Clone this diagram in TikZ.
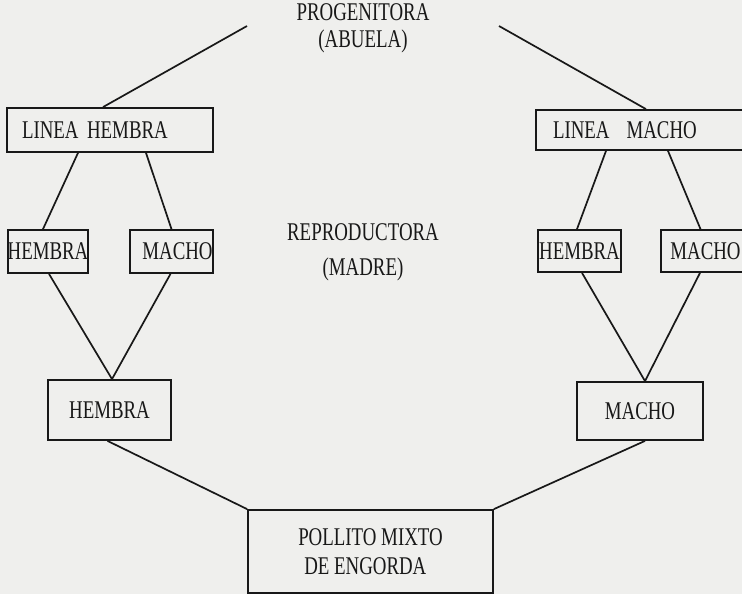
\documentclass[tikz,border=0pt]{standalone}
\usepackage{fontspec}
\newfontfamily\typefont[FakeStretch=0.74]{Liberation Serif}
\usetikzlibrary{positioning}
\definecolor{paper}{RGB}{239,239,237}
\definecolor{ink}{RGB}{24,24,24}
\tikzset{
  box/.style={draw=ink,line width=1.8pt,rectangle,inner sep=0pt,text=ink,
              font=\typefont\fontsize{25.5}{27}\selectfont},
  label/.style={text=ink,align=center,inner sep=0pt,
              font=\typefont\fontsize{25.5}{27}\selectfont},
  link/.style={draw=ink,line width=1.7pt}
}

\begin{document}
\begin{tikzpicture}[x=1pt,y=-1pt]
                   \useasboundingbox (0,0) rectangle (742,594);
                   \clip (0,0) rectangle (742,594);
                   \fill[paper] (0,0) rectangle (742,594);
                   \node[label] (prog) at (363,28) {PROGENITORA\\(ABUELA)};
                   \node[label] (rep) at (363,252) {REPRODUCTORA\\[8pt](MADRE)};
                   \node[box,minimum width=206pt,minimum height=44pt,text width=176pt,align=left] (lh) at (110,130) {LINEA HEMBRA};
                   \node[box,minimum width=214pt,minimum height=40pt,text width=180pt,align=left] (lm) at (643,130) {LINEA~~MACHO};
                   \node[box,minimum width=80pt,minimum height=43pt] (h_1) at (48,251.5) {HEMBRA};
                   \node[box,minimum width=83pt,minimum height=43pt] (m_1) at (171.5,251.5) {\hspace{12pt}MACHO};
                   \node[box,minimum width=83pt,minimum height=42pt] (h_2) at (579.5,251) {HEMBRA};
                   \node[box,minimum width=89pt,minimum height=42pt] (m_2) at (705.5,251) {MACHO\hspace{14pt}};
                   \node[box,minimum width=123pt,minimum height=60pt] (hh) at (109.5,410) {HEMBRA};
                   \node[box,minimum width=126pt,minimum height=58pt] (mm) at (640,411) {MACHO};
                   \node[box,minimum width=245pt,minimum height=83pt,align=left] (pol) at (370.5,551.5) {POLLITO MIXTO\\[2pt]\hspace{6pt}DE ENGORDA};
                   \coordinate (p_l) at (247,26);
                   \coordinate (p_r) at (499,26);
                    \path[link]
                    (p_l) edge ([xshift=-7pt]lh.north)
                    (p_r) edge ([xshift=3pt]lm.north)
                    ([xshift=-32pt]lh.south) edge ([xshift=-5pt]h_1.north)
                    ([xshift=36pt]lh.south) edge (m_1.north)
                    ([xshift=-37pt]lm.south) edge ([xshift=-2.5pt]h_2.north)
                    ([xshift=25pt]lm.south) edge ([xshift=-5pt]m_2.north)
                    ([xshift=1pt]h_1.south) edge ([xshift=2.5pt]hh.north)
                    ([xshift=-1pt]m_1.south) edge ([xshift=2.5pt]hh.north)
                    ([xshift=2.5pt]h_2.south) edge ([xshift=5pt]mm.north)
                    ([xshift=-5.5pt]m_2.south) edge ([xshift=5pt]mm.north)
                    ([xshift=-2pt]hh.south) edge (pol.north west)
                    ([xshift=5pt]mm.south) edge (pol.north east)
                    ;
                \end{tikzpicture}
\end{document}
